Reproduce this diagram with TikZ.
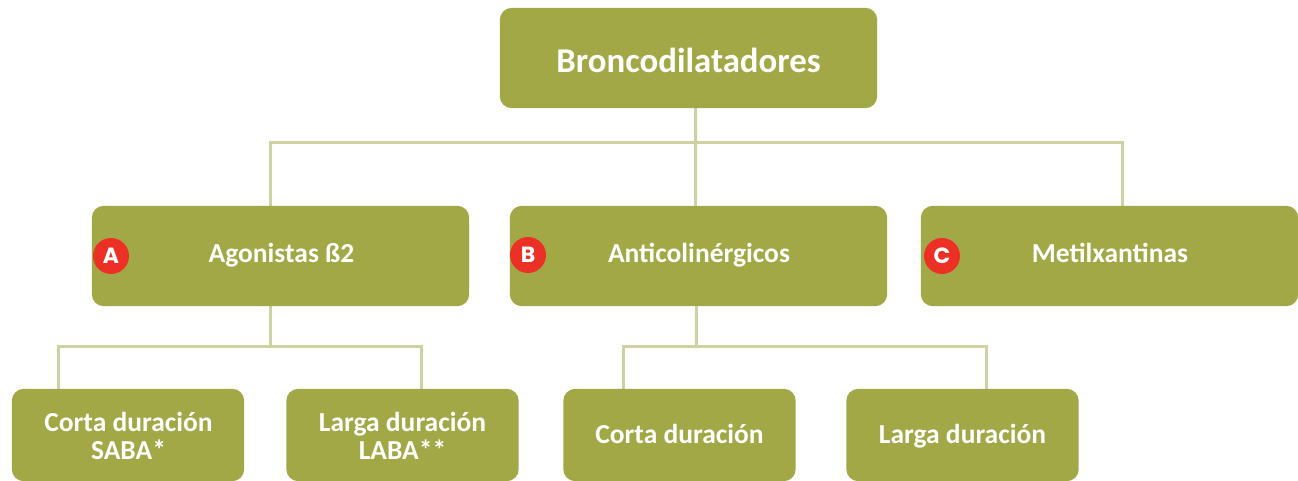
\documentclass[tikz,border=0pt]{standalone}
\usepackage{fontspec}
\setmainfont{Carlito}
\newfontfamily\badgefont{Poppins}
\definecolor{olive}{RGB}{162,168,70}
\definecolor{connc}{RGB}{206,209,160}
\definecolor{badgered}{RGB}{236,48,38}
\begin{document}
\begin{tikzpicture}[x=1pt,y=-1pt,
  box/.style={fill=olive, rounded corners=12pt, inner sep=0pt, draw=none},
  txt/.style={text=white, inner sep=0pt},
  lvltwo/.style={txt, anchor=base, font=\bfseries\fontsize{27.5}{30}\selectfont},
  lvlthree/.style={txt, anchor=base, font=\bfseries\fontsize{27.5}{30}\selectfont},
  conn/.style={draw=connc, line width=3pt},
  badge/.style={circle, fill=badgered, minimum size=36pt, inner sep=0pt, text=white, font=\badgefont\bfseries\fontsize{22}{22}\selectfont}
]
\useasboundingbox (0,0) rectangle (1298,481);
% junction coordinates
\coordinate (jt) at (695,143);
\coordinate (ja) at (270,143);
\coordinate (jc) at (1122,143);
\coordinate (ka) at (270,346);
\coordinate (ka1) at (58,346);
\coordinate (ka2) at (421,346);
\coordinate (kb) at (696,346);
\coordinate (kb1) at (623,346);
\coordinate (kb2) at (986,346);
% boxes (shapes only, for anchors)
\path
  (688.5,58) node[minimum width=377pt, minimum height=100pt, inner sep=0pt] (top) {}
  (280.5,256) node[minimum width=377pt, minimum height=100pt, inner sep=0pt] (a) {}
  (698.5,256) node[minimum width=377pt, minimum height=100pt, inner sep=0pt] (b) {}
  (1109.5,256) node[minimum width=377pt, minimum height=100pt, inner sep=0pt] (c) {}
  (128,435) node[minimum width=232pt, minimum height=92pt, inner sep=0pt] (a1) {}
  (402.5,435) node[minimum width=232pt, minimum height=92pt, inner sep=0pt] (a2) {}
  (679.5,435) node[minimum width=232pt, minimum height=92pt, inner sep=0pt] (b1) {}
  (962.5,435) node[minimum width=232pt, minimum height=92pt, inner sep=0pt] (b2) {};
% connectors
\draw[conn] (top.south -| jt) -- (jt);
\draw[conn] (a.north -| ja) -- (ja) -- (jc) -- (c.north -| jc);
\draw[conn] (jt) -- (b.north -| jt);
\draw[conn] (a.south -| ka) -- (ka);
\draw[conn] (a1.north -| ka1) -- (ka1) -- (ka2) -- (a2.north -| ka2);
\draw[conn] (b.south -| kb) -- (kb);
\draw[conn] (b1.north -| kb1) -- (kb1) -- (kb2) -- (b2.north -| kb2);
% box fills over connectors
\foreach \n in {top,a,b,c,a1,a2,b1,b2}
  \fill[olive, rounded corners=12pt] (\n.north west) rectangle (\n.south east);
% texts
\node[txt, anchor=base, font=\bfseries\fontsize{34.8}{40}\selectfont] (ttop) at (688.5,73) {Broncodilatadores};
\node[lvltwo] (ta) at (281.5,262) {Agonistas ß2};
\node[lvltwo] (tb) at (699,262) {Anticolinérgicos};
\node[lvltwo] (tc) at (1110,262) {Metilxantinas};
\node[lvlthree] (ta1a) at (128.5,431) {Corta duración};
\node[lvlthree] (ta1b) at (128.5,459) {SABA*};
\node[lvlthree] (ta2a) at (402.5,431) {Larga duración};
\node[lvlthree] (ta2b) at (402.5,459) {LABA**};
\node[lvlthree] (tb1) at (679.5,443) {Corta duración};
\node[lvlthree] (tb2) at (962.5,443) {Larga duración};
% badges
\node[badge] (bA) at (111,256) {A};
\node[badge] (bB) at (528,255) {B};
\node[badge] (bC) at (942,256) {C};
\end{tikzpicture}
\end{document}
